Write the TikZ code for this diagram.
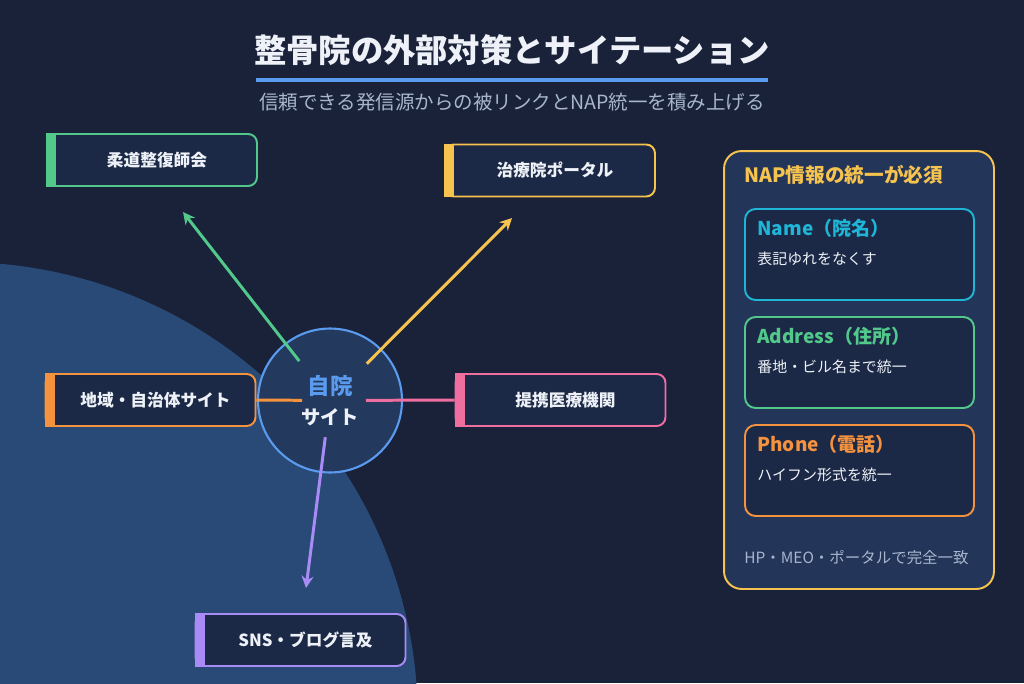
\documentclass[tikz,border=0pt]{standalone}
\usepackage{fontspec}
\setmainfont{Noto Sans CJK JP}
\usetikzlibrary{arrows.meta,positioning}
\definecolor{bg}{HTML}{192239}
\definecolor{bigc}{HTML}{294A76}
\definecolor{boxfill}{HTML}{1C2946}
\definecolor{panel}{HTML}{23365A}
\definecolor{hubfill}{HTML}{233A5E}
\definecolor{grn}{HTML}{52C98B}
\definecolor{ylw}{HTML}{F7C34F}
\definecolor{org}{HTML}{F5923E}
\definecolor{pnk}{HTML}{EE6EA0}
\definecolor{prp}{HTML}{A98BF5}
\definecolor{cyn}{HTML}{1FB5D6}
\definecolor{blu}{HTML}{5B9BEF}
\definecolor{subgray}{HTML}{A7B6CC}
\definecolor{txt}{HTML}{EEF2F8}

\begin{document}
\begin{tikzpicture}[x=0.02cm,y=-0.02cm,>={Stealth[length=2.4mm,width=2.4mm]},
 every node/.style={text=txt},
 tag/.style={draw=#1,fill=boxfill,line width=1.1pt,rounded corners=5pt,minimum width=4.2cm,
  minimum height=1.04cm,inner sep=0pt,font=\fontsize{9.5}{11}\selectfont\bfseries},
 napbox/.style={draw=#1,fill=boxfill,line width=1.1pt,rounded corners=6pt,minimum width=4.58cm,
  minimum height=1.82cm,inner sep=0pt},
 link/.style={line width=1.7pt}]
\useasboundingbox (0,0) rectangle (1024,683);
\fill[bg] (0,0) rectangle (1024,683);
\begin{scope}
\clip (0,0) rectangle (1024,683);
\fill[bigc] (-40,720) circle[radius=9.16cm];
\end{scope}

% title
\node[font=\fontsize{18.4}{21}\selectfont\bfseries] (title) at (512,50) {整骨院の外部対策とサイテーション};
\draw[blu,line width=2.3pt] (256,80) -- (768,80);
\node[text=subgray,font=\fontsize{11.1}{13}\selectfont] (sub) at (512,102) {信頼できる発信源からの被リンクとNAP統一を積み上げる};

% sources
\foreach \n/\x/\y/\c/\t in {jusei/152/160/grn/柔道整復師会,portal/550/170.5/ylw/治療院ポータル,
 chiiki/150.5/400/org/地域・自治体サイト,teikei/560.5/400/pnk/提携医療機関,sns/300.5/640/prp/SNS・ブログ言及}{
 \node[tag=\c] (\n) at (\x,\y) {\hspace*{.2cm}\t};
 \fill[\c] (\n.north west) rectangle ([xshift=.2cm]\n.south west);
}

% own site
\node[circle,draw=blu,fill=hubfill,line width=1.2pt,minimum size=2.88cm,align=center,
 font=\fontsize{11}{17.5}\selectfont\bfseries] (hub) at (330,400.5)
 {{\color{blu}\fontsize{12.8}{17.5}\selectfont 自院}\\サイト};
\coordinate (gend) at (183,212);
\coordinate (yend) at (512,218);
\coordinate (pend) at (306,588);
\draw[->,link,grn,shorten <=1cm] (hub.center) -- (gend);
\draw[->,link,ylw,shorten <=1.04cm] (hub.center) -- (yend);
\draw[->,link,prp,shorten <=.74cm] (hub.center) -- (pend);
\draw[link,org,shorten <=.56cm] (hub.center) -- (chiiki.east);
\draw[link,pnk,shorten <=.72cm] (hub.center) -- (teikei.west);

% NAP panel
\node[draw=ylw,fill=panel,line width=1.1pt,rounded corners=10pt,minimum width=5.4cm,
 minimum height=8.76cm,inner sep=0pt] (nap) at (859,370) {};
\node[anchor=west,inner sep=0pt,text=ylw,font=\fontsize{11.2}{13}\selectfont\bfseries] (naphead) at (744,175) {NAP情報の統一が必須};
\foreach \n/\y/\c/\h/\b in {name/254.5/cyn/Name（院名）/表記ゆれをなくす,
 addr/362.5/grn/Address（住所）/番地・ビル名まで統一,tel/470.5/org/Phone（電話）/ハイフン形式を統一}{
 \node[napbox=\c] (\n) at (859.5,\y) {};
 \node[anchor=west,inner sep=0pt,text=\c,font=\fontsize{10.8}{12}\selectfont\bfseries] (\n h)
  at ([xshift=.26cm,yshift=-.4cm]\n.north west) {\h};
 \node[anchor=west,inner sep=0pt,font=\fontsize{8.5}{10}\selectfont] (\n b)
  at ([xshift=.26cm,yshift=-1.02cm]\n.north west) {\b};
}
\node[anchor=west,inner sep=0pt,text=subgray,font=\fontsize{8.8}{10}\selectfont] (napfoot) at (744,558) {HP・MEO・ポータルで完全一致};
\end{tikzpicture}
\end{document}
